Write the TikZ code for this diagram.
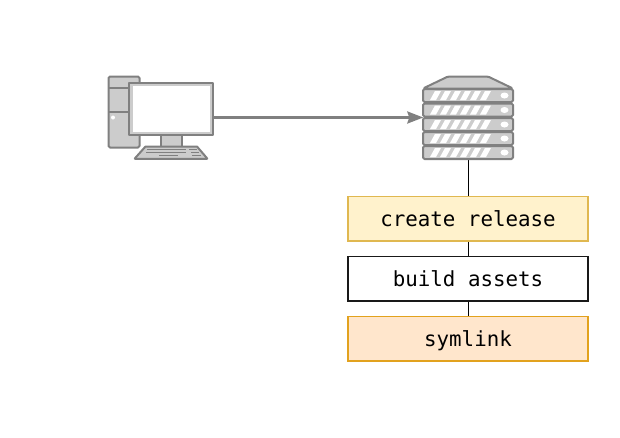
\documentclass[tikz,border=0pt]{standalone}
\usepackage{fontspec}
\setmonofont{DejaVu Sans Mono}
\usetikzlibrary{arrows.meta}
\definecolor{gline}{HTML}{808080}
\definecolor{gfill}{HTML}{CCCCCC}
\definecolor{ylw}{HTML}{FFF2CC}
\definecolor{ylwd}{HTML}{E0B850}
\definecolor{org}{HTML}{FFE6CC}
\definecolor{orgd}{HTML}{E2A21E}
\tikzset{
  x=1pt,y=-1pt,
  icon/.style={draw=gline,fill=gfill,line width=2pt,line join=round,rounded corners=1.5pt},
  detail/.style={draw=gline,line width=2pt},
  keyline/.style={draw=gline,line width=1.3pt},
  stepbox/.style={minimum width=240pt,minimum height=44.6pt,inner sep=0pt,line width=1.3pt,font=\ttfamily\fontsize{20.8}{24}\selectfont,text=black,text depth=0pt,text height=16pt},
  iconarea/.style={inner sep=0pt,draw=none},
  link/.style={draw=black,line width=1.5pt},
  feed/.style={draw=gline,line width=2.6pt,-{Stealth[length=16pt,width=12pt,inset=2pt]}}
}
\begin{document}
\begin{tikzpicture}
\useasboundingbox (0,0) rectangle (620,437);
% icon areas
\node[iconarea,minimum width=105pt,minimum height=83pt] (pc) at (160.5,117.5) {};
\node[iconarea,minimum width=90pt,minimum height=83pt] (srv) at (468.5,117.5) {};
% step boxes
\node[stepbox,draw=ylwd,fill=ylw] (create) at (468,218.8) {create release};
\node[stepbox,draw=black!90,fill=white] (build) at (468,278.8) {build assets};
\node[stepbox,draw=orgd,fill=org] (sym) at (468,338.8) {symlink};
\draw[link] (srv.south) -- (create.north -| srv.south);
\draw[link] (create.south -| srv.south) -- (build.north -| srv.south);
\draw[link] (build.south -| srv.south) -- (sym.north -| srv.south);
% computer tower
\draw[icon] (108.5,76.5) rectangle (139.5,147.5);
\draw[detail] (108.5,87.5) -- (129,87.5);
\draw[detail] (108.5,111.5) -- (129,111.5);
\fill[white] (113,117.5) circle (2pt);
% stand
\draw[icon,rounded corners=0pt] (160.5,135) rectangle (181.5,146.5);
% keyboard
\draw[icon,rounded corners=0.5pt] (145.5,146.5) -- (197,146.5) -- (207.5,158.8) -- (134.5,158.8) -- cycle;
\draw[keyline] (147,149.8) -- (186,149.8) (189,149.8) -- (197,149.8);
\draw[keyline] (146,152.8) -- (186,152.8) (191,152.8) -- (199,152.8);
\draw[keyline] (159,155.8) -- (178,155.8) (192,155.8) -- (201,155.8);
% monitor
\draw[icon,rounded corners=0pt] (129,82.5) rectangle (213,135);
\fill[white] (132.5,86) rectangle (209.5,131.5);
% server
\draw[icon] (423,88.5) -- (448,76.5) -- (488,76.5) -- (513,88.5) -- cycle;
\foreach \y in {89,103.5,118,132,146}{
  \draw[icon] (423,\y) rectangle (513,\y+13);
  \foreach \i in {0,...,5}{
    \fill[white] ({430+\i*10},\y+11) -- ({436+\i*10},\y+11) -- ({441+\i*10},\y+2) -- ({435+\i*10},\y+2) -- cycle;
  }
  \fill[white] (504.5,\y+6.5) ellipse (4pt and 3pt);
}
% arrow
\draw[feed] (pc.east) -- (srv.west);
\end{tikzpicture}
\end{document}
